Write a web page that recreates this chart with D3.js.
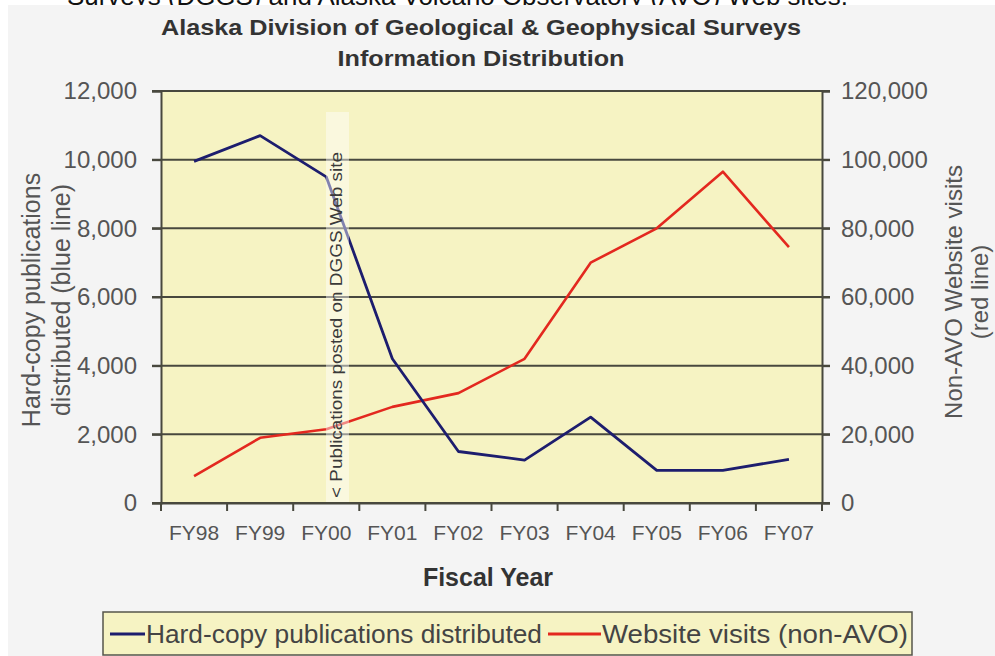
<!DOCTYPE html>
<html>
<head>
<meta charset="utf-8">
<script src="https://cdn.jsdelivr.net/npm/d3@7/dist/d3.min.js"></script>
<style>
  html, body { margin: 0; padding: 0; background: #ffffff; }
  svg { display: block; }
  text { font-family: "Liberation Sans", Arial, sans-serif; }
</style>
</head>
<body>
<svg id="chart" width="995" height="656"></svg>
<script>
// ---- Data ----
const categories = ["FY98", "FY99", "FY00", "FY01", "FY02", "FY03", "FY04", "FY05", "FY06", "FY07"];
const hardCopy = [9950, 10700, 9500, 4200, 1500, 1250, 2500, 950, 950, 1270];
const webVisits = [7800, 19000, 21500, 28000, 32000, 42000, 70000, 80000, 96500, 74500];
const leftTicks = [0, 2000, 4000, 6000, 8000, 10000, 12000];
const rightTicks = [0, 20000, 40000, 60000, 80000, 100000, 120000];
const titleLines = ["Alaska Division of Geological & Geophysical Surveys", "Information Distribution"];
const seriesNames = ["Hard-copy publications distributed", "Website visits (non-AVO)"];

// ---- Layout ----
const svg = d3.select("#chart");
const W = 995, H = 656;
const plot = { left: 161, right: 822, top: 91, bottom: 503 };
const gridColor = "#48483e";
const labelColor = "#555555";
const blue = "#1d1d6e";
const red = "#e3281f";

// clipped caption text from surrounding page (cut off at top in the reference)
svg.append("text")
  .attr("x", 67).attr("y", 5)
  .attr("font-size", 26).attr("fill", "#111")
  .attr("textLength", 781).attr("lengthAdjust", "spacingAndGlyphs")
  .text("Surveys (DGGS) and Alaska Volcano Observatory (AVO) Web sites.");

// chart image background
svg.append("rect").attr("x", 8).attr("y", 5).attr("width", W - 8).attr("height", H - 5)
  .attr("fill", "#f4f4f4");

const x = d3.scaleBand().domain(categories).range([plot.left, plot.right]).padding(0);
const yL = d3.scaleLinear().domain([0, 12000]).range([plot.bottom, plot.top]);
const yR = d3.scaleLinear().domain([0, 120000]).range([plot.bottom, plot.top]);
const cx = d => x(d) + x.bandwidth() / 2;

// plot area
svg.append("rect")
  .attr("x", plot.left).attr("y", plot.top)
  .attr("width", plot.right - plot.left).attr("height", plot.bottom - plot.top)
  .attr("fill", "#f6f3c3");

// title
svg.append("text").attr("x", 481).attr("y", 35).attr("text-anchor", "middle")
  .attr("font-size", 22).attr("font-weight", "bold").attr("fill", "#333333")
  .attr("textLength", 640).attr("lengthAdjust", "spacingAndGlyphs")
  .text(titleLines[0]);
svg.append("text").attr("x", 481).attr("y", 66).attr("text-anchor", "middle")
  .attr("font-size", 22).attr("font-weight", "bold").attr("fill", "#333333")
  .attr("textLength", 287).attr("lengthAdjust", "spacingAndGlyphs")
  .text(titleLines[1]);

// gridlines (left axis ticks)
svg.append("g").selectAll("line").data(leftTicks).join("line")
  .attr("x1", plot.left - 9).attr("x2", plot.right + 8)
  .attr("y1", d => yL(d)).attr("y2", d => yL(d))
  .attr("stroke", gridColor).attr("stroke-width", 2);

// left axis
const gL = svg.append("g").attr("transform", `translate(${plot.left},0)`)
  .call(d3.axisLeft(yL).tickValues(leftTicks).tickFormat(d3.format(",")).tickSize(9).tickPadding(15));
gL.select(".domain").attr("stroke", gridColor).attr("stroke-width", 2);
gL.selectAll(".tick line").attr("stroke", gridColor).attr("stroke-width", 2);
gL.selectAll(".tick text").attr("font-size", 24).attr("fill", labelColor)
  .attr("font-family", "Liberation Sans, Arial, sans-serif");

// right axis
const gR = svg.append("g").attr("transform", `translate(${plot.right},0)`)
  .call(d3.axisRight(yR).tickValues(rightTicks).tickFormat(d3.format(",")).tickSize(8).tickPadding(11));
gR.select(".domain").attr("stroke", gridColor).attr("stroke-width", 2);
gR.selectAll(".tick line").attr("stroke", gridColor).attr("stroke-width", 2);
gR.selectAll(".tick text").attr("font-size", 24).attr("fill", labelColor)
  .attr("font-family", "Liberation Sans, Arial, sans-serif");

// bottom axis: labels centered in bands, ticks at band boundaries
const gB = svg.append("g").attr("transform", `translate(0,${plot.bottom})`)
  .call(d3.axisBottom(x).tickSize(0).tickPadding(22));
gB.select(".domain").attr("stroke", gridColor).attr("stroke-width", 2);
gB.selectAll(".tick text").attr("font-size", 21).attr("fill", labelColor)
  .attr("font-family", "Liberation Sans, Arial, sans-serif");
const boundaries = categories.map(c => x(c)).concat([x(categories[categories.length - 1]) + x.bandwidth()]);
svg.append("g").selectAll("line").data(boundaries).join("line")
  .attr("x1", d => d).attr("x2", d => d)
  .attr("y1", plot.bottom).attr("y2", plot.bottom + 8)
  .attr("stroke", gridColor).attr("stroke-width", 2);

// top border line
svg.append("line").attr("x1", plot.left).attr("x2", plot.right)
  .attr("y1", plot.top).attr("y2", plot.top)
  .attr("stroke", gridColor).attr("stroke-width", 2);

// series lines
const lineL = d3.line().x((d, i) => cx(categories[i])).y(d => yL(d));
const lineR = d3.line().x((d, i) => cx(categories[i])).y(d => yR(d));
svg.append("path").datum(webVisits).attr("d", lineR)
  .attr("fill", "none").attr("stroke", red).attr("stroke-width", 2.6).attr("stroke-linejoin", "round");
svg.append("path").datum(hardCopy).attr("d", lineL)
  .attr("fill", "none").attr("stroke", blue).attr("stroke-width", 2.8).attr("stroke-linejoin", "round");

// annotation box + vertical text
svg.append("rect").attr("x", 326).attr("y", 112).attr("width", 23).attr("height", plot.bottom - 113)
  .attr("fill", "#ffffff").attr("opacity", 0.45);
svg.append("text")
  .attr("transform", `translate(342,498) rotate(-90)`)
  .attr("font-size", 17).attr("fill", "#3a3a3a")
  .attr("textLength", 346).attr("lengthAdjust", "spacingAndGlyphs")
  .text("< Publications posted on DGGS Web site");

// axis titles
const leftTitle = svg.append("text").attr("transform", "translate(40,300) rotate(-90)")
  .attr("text-anchor", "middle").attr("font-size", 25).attr("fill", labelColor);
leftTitle.append("tspan").attr("x", 0).attr("y", 0).text("Hard-copy publications");
leftTitle.append("tspan").attr("x", 0).attr("y", 30).text("distributed (blue line)");

const rightTitle = svg.append("text").attr("transform", "translate(962,292) rotate(-90)")
  .attr("text-anchor", "middle").attr("font-size", 24).attr("fill", labelColor);
rightTitle.append("tspan").attr("x", 0).attr("y", 0).text("Non-AVO Website visits");
rightTitle.append("tspan").attr("x", 0).attr("y", 26).text("(red line)");

// x axis title
svg.append("text").attr("x", 488).attr("y", 586).attr("text-anchor", "middle")
  .attr("font-size", 25).attr("font-weight", "bold").attr("fill", "#333")
  .text("Fiscal Year");

// legend
svg.append("rect").attr("x", 103).attr("y", 612).attr("width", 809).attr("height", 43)
  .attr("fill", "#f6f3c3").attr("stroke", "#55554b").attr("stroke-width", 1.5);
const legendItems = [
  { name: seriesNames[0], color: blue, x1: 110, x2: 145, tx: 146, tl: 396 },
  { name: seriesNames[1], color: red, x1: 548, x2: 601, tx: 602, tl: 306 }
];
const lg = svg.append("g").selectAll("g").data(legendItems).join("g");
lg.append("line").attr("x1", d => d.x1).attr("x2", d => d.x2).attr("y1", 634).attr("y2", 634)
  .attr("stroke", d => d.color).attr("stroke-width", 3);
lg.append("text").attr("x", d => d.tx).attr("y", 643)
  .attr("font-size", 26).attr("fill", "#444")
  .attr("textLength", d => d.tl).attr("lengthAdjust", "spacingAndGlyphs")
  .text(d => d.name);
</script>
</body>
</html>
